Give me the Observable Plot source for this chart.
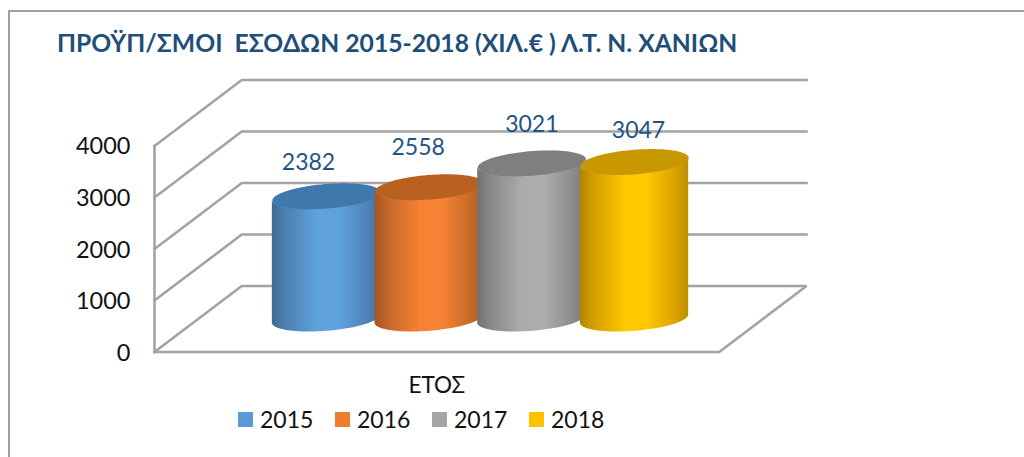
<!DOCTYPE html>
<html lang="el">
<head>
<meta charset="utf-8">
<script src="https://cdn.jsdelivr.net/npm/d3@7"></script>
<script src="https://cdn.jsdelivr.net/npm/@observablehq/plot@0.6"></script>
<style>
  html, body { margin: 0; padding: 0; background: #fff; width: 1024px; height: 457px; overflow: hidden; }
  body { position: relative; font-family: Lato, "Open Sans", sans-serif; }
  #frame { position: absolute; left: 8px; top: 10px; width: 1100px; height: 500px; border-left: 2px solid #a0a0a0; border-top: 2px solid #a0a0a0; }
  #title { position: absolute; left: 57px; top: 28px; margin: 0; font-size: 24.7px; font-weight: 700; color: #1f4e79; white-space: pre; line-height: 30px; }
  #chart { position: absolute; left: 0; top: 70px; }
  #legend { position: absolute; left: 238px; top: 405px; display: flex; font-size: 23px; line-height: 28px; color: #111; }
  #legend .item { display: flex; align-items: center; width: 97px; }
  #legend .sw { width: 15px; height: 15px; margin-right: 7px; margin-top: 1px; }
  svg text { font-family: Lato, "Open Sans", sans-serif; }
</style>
</head>
<body>
<div id="frame"></div>
<h1 id="title"></h1>
<div id="chart"></div>
<div id="legend"></div>
<script>
const titleText = "ΠΡΟΫΠ/ΣΜΟΙ  ΕΣΟΔΩΝ 2015-2018 (ΧΙΛ.€ ) Λ.Τ. Ν. ΧΑΝΙΩΝ";
const axisTitle = "ΕΤΟΣ";
const years = ["2015", "2016", "2017", "2018"];
const values = [2382, 2558, 3021, 3047];
const seriesColors = ["#5b9bd5", "#ed7d31", "#a5a5a5", "#ffc000"];
const topColors = ["#3f78ad", "#b8601f", "#7f7f7f", "#c89800"];
const gridValues = [0, 1000, 2000, 3000, 4000];

// oblique 3D projection, expressed in the units of the x and y scales
const depthX = 0.85, depthY = 1280;
const slotMin = -1.25, slotMax = 4.25;
const radiusX = 0.5, radiusZ = 0.197, midZ = 0.5;
const project = (x, z, v) => ({x: x + z * depthX, y: v + z * depthY});

// data-label nudges in pixels, layout only
const labelNudge = [[-18, -34], [-11, -40], [0, -39], [4, -31]];

const ringPoint = (i, v, t) => project(
  i + radiusX * Math.cos(t),
  midZ + radiusZ * Math.sin(t),
  v
);
const edgeAngle = Math.atan2(depthX * radiusZ, radiusX);
const steps = d3.range(0, 97);
const frontArc = steps.map((k) => edgeAngle - Math.PI * k / 96);
const fullRing = d3.range(0, 181).map((k) => 2 * Math.PI * k / 180);

const marks = [];

// gradients for the cylinder sides
marks.push(() => {
  const defs = d3.create("svg:defs");
  seriesColors.forEach((c, i) => {
    const g = defs.append("linearGradient").attr("id", `side${i}`).attr("x1", 0).attr("x2", 1).attr("y1", 0).attr("y2", 0);
    const base = d3.rgb(c);
    [[0, base.darker(1.05)], [0.12, base.darker(0.55)], [0.42, base.brighter(0.12)], [0.62, base.brighter(0.12)], [0.86, base.darker(0.4)], [1, base.darker(0.85)]]
      .forEach(([o, col]) => g.append("stop").attr("offset", o).attr("stop-color", col.formatHex()));
  });
  return defs.node();
});

// walls and floor
const gridStyle = {stroke: "#a3a3a3", strokeWidth: 2.6, strokeLinejoin: "miter", strokeLinecap: "square", curve: "linear"};
gridValues.filter((v) => v > 0).forEach((v) => {
  marks.push(Plot.line([project(slotMin, 0, v), project(slotMin, 1, v), project(slotMax, 1, v)], {x: "x", y: "y", ...gridStyle}));
});
marks.push(Plot.line(
  [project(slotMin, 0, 0), project(slotMax, 0, 0), project(slotMax, 1, 0), project(slotMin, 1, 0), project(slotMin, 0, 0)],
  {x: "x", y: "y", ...gridStyle}
));
marks.push(Plot.line(
  [project(slotMin, 0, 0), project(slotMin, 0, d3.max(gridValues))],
  {x: "x", y: "y", ...gridStyle}
));

// cylinders
years.forEach((year, i) => {
  const v = values[i];
  const side = frontArc.map((t) => {
    const bottom = ringPoint(i, 0, t), top = ringPoint(i, v, t);
    return {x: bottom.x, y1: bottom.y, y2: top.y};
  });
  marks.push(Plot.areaY(side, {x: "x", y1: "y1", y2: "y2", fill: `url(#side${i})`, curve: "linear"}));
  marks.push(Plot.line(fullRing.map((t) => ringPoint(i, v, t)), {x: "x", y: "y", fill: topColors[i], stroke: "none", curve: "linear"}));
});

// data labels
years.forEach((year, i) => {
  const p = project(i, midZ, values[i]);
  marks.push(Plot.text([values[i]], {
    x: () => p.x, y: () => p.y, text: (d) => String(d),
    dx: labelNudge[i][0], dy: labelNudge[i][1],
    fill: "#1f5484", fontSize: 23, stroke: "none"
  }));
});

// value axis and axis title
marks.push(Plot.axisY({ticks: gridValues, tickSize: 0, tickPadding: 24, label: null, tickFormat: (d) => String(d), fontSize: 23.5, fill: "#111", dy: 1}));
marks.push(Plot.text([axisTitle], {x: () => (slotMin + slotMax) / 2, y: () => 0, text: (d) => d, dy: 33.5, fontSize: 22.5, fill: "#111"}));

const chart = Plot.plot({
  width: 1024, height: 330,
  marginLeft: 154, marginRight: 218, marginTop: 9.5, marginBottom: 48.5,
  style: {background: "transparent", overflow: "visible"},
  x: {domain: [slotMin, slotMax + depthX], axis: null},
  y: {domain: [0, d3.max(gridValues) + depthY]},
  marks
});
document.getElementById("chart").append(chart);

document.getElementById("title").textContent = titleText;
const legend = document.getElementById("legend");
years.forEach((year, i) => {
  const item = document.createElement("div"); item.className = "item";
  const sw = document.createElement("span"); sw.className = "sw"; sw.style.background = seriesColors[i];
  const label = document.createElement("span"); label.textContent = year;
  item.append(sw, label);
  legend.append(item);
});
</script>
</body>
</html>
